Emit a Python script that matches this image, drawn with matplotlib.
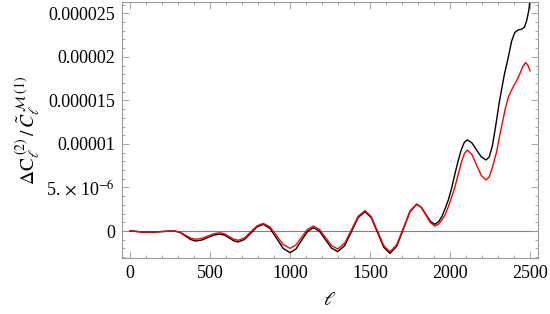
import numpy as np
import matplotlib.pyplot as plt
from matplotlib.ticker import FixedLocator, MultipleLocator

plt.rcParams['font.family'] = ['Liberation Serif', 'DejaVu Serif']
plt.rcParams['mathtext.fontset'] = 'stix'

# multipole and ratio values (units of 1e-6)
ell_black = [0, 26, 52, 78, 104, 148, 192, 236, 280, 313, 346, 379, 412, 450,
             487, 525, 562, 591, 620, 648, 677, 716, 755, 794, 833, 875, 917,
             958, 1000, 1037, 1073, 1110, 1146, 1184, 1222, 1260, 1298, 1341,
             1384, 1426, 1469, 1508, 1547, 1586, 1625, 1667, 1709, 1750, 1792,
             1820, 1849, 1878, 1906, 1930, 1950, 1970, 1990, 2010, 2030, 2050,
             2070, 2090, 2108, 2137, 2166, 2196, 2225, 2245, 2265, 2285, 2310,
             2340, 2365, 2385, 2405, 2427, 2445, 2465, 2480, 2492, 2500]
val_black = [0, -0.02, -0.075, -0.13, -0.15, -0.128, -0.075, -0.022, 0.0,
             -0.17, -0.575, -0.98, -1.15, -1.03, -0.75, -0.47, -0.35, -0.48,
             -0.805, -1.13, -1.26, -0.96, -0.245, 0.47, 0.77, 0.29, -0.86,
             -2.01, -2.49, -2.07, -1.055, -0.04, 0.38, -0.02, -1.0, -1.97,
             -2.37, -1.70, -0.075, 1.55, 2.22, 1.52, -0.175, -1.87, -2.57,
             -1.75, 0.245, 2.24, 3.06, 2.73, 1.915, 1.10, 0.77, 1.1, 1.7, 2.6,
             3.6, 4.9, 6.5, 8.0, 9.3, 10.2, 10.46, 10.12, 9.31, 8.50, 8.16, 8.5,
             9.8, 12.0, 15.0, 18.0, 20.0, 21.8, 22.8, 23.1, 23.15, 23.4, 24.2,
             25.3, 26.5]

ell_red = [0, 26, 52, 78, 104, 148, 192, 236, 280, 313, 346, 379, 412, 450,
           487, 525, 562, 591, 620, 648, 677, 716, 755, 794, 833, 875, 917,
           958, 1000, 1037, 1073, 1110, 1146, 1184, 1222, 1260, 1298, 1341,
           1384, 1426, 1469, 1508, 1547, 1586, 1625, 1667, 1709, 1750, 1792,
           1820, 1849, 1878, 1906, 1930, 1950, 1970, 1990, 2010, 2030, 2050,
           2070, 2090, 2108, 2137, 2166, 2196, 2225, 2245, 2265, 2290, 2320,
           2345, 2365, 2380, 2396, 2415, 2435, 2455, 2473, 2488, 2500]
val_red = [0, -0.02, -0.07, -0.12, -0.14, -0.12, -0.07, -0.02, 0.0, -0.14,
           -0.475, -0.81, -0.95, -0.84, -0.575, -0.31, -0.2, -0.33, -0.635,
           -0.94, -1.07, -0.785, -0.095, 0.595, 0.88, 0.46, -0.555, -1.57,
           -1.99, -1.62, -0.71, 0.20, 0.57, 0.18, -0.75, -1.68, -2.07, -1.43,
           0.135, 1.70, 2.34, 1.65, -0.02, -1.69, -2.38, -1.58, 0.36, 2.30,
           3.1, 2.73, 1.835, 0.94, 0.57, 0.8, 1.3, 1.9, 2.8, 3.9, 5.0, 6.4,
           7.8, 8.9, 9.3, 8.80, 7.58, 6.36, 5.86, 6.2, 7.3, 9.0, 11.8, 14.0,
           15.4, 16.0, 16.6, 17.2, 18.0, 18.9, 19.35, 19.0, 18.4]

ytick_vals = [0, 5e-6, 1e-5, 1.5e-5, 2e-5, 2.5e-5]
ytick_labels = ['0', r'5. $\times$ 10$^{-6}$', '0.00001', '0.000015', '0.00002', '0.000025']

fig = plt.figure(figsize=(5.5, 3.14), dpi=100)
ax = fig.add_axes([122/550, 56/314, 416/550, 256/314])

ax.axhline(0, color='#808080', lw=0.8, zorder=1)
ax.plot(ell_black, np.array(val_black) * 1e-6, color='black', lw=1.0)
ax.plot(ell_red, np.array(val_red) * 1e-6, color='red', lw=1.0)

ax.set_xlim(-50, 2550)
ax.set_ylim(-3.1e-6, 26.3e-6)

ax.xaxis.set_major_locator(MultipleLocator(500))
ax.xaxis.set_minor_locator(MultipleLocator(100))
ax.yaxis.set_major_locator(FixedLocator(ytick_vals))
ax.set_yticklabels(ytick_labels)
ax.yaxis.set_minor_locator(MultipleLocator(1e-6))

for s in ax.spines.values():
    s.set_color('#999999')
    s.set_linewidth(0.8)
ax.tick_params(which='both', direction='in', top=True, right=True,
               color='#999999', labelsize=13, width=0.6)
ax.tick_params(which='major', length=5, pad=5)
ax.tick_params(which='minor', length=2.5)

ax.set_xlabel(r'$\ell$', fontsize=14, labelpad=7)
ax.set_ylabel(r'$\Delta\mathrm{C}_\ell^{\;(2)}\,/\,\tilde{C}_\ell^{\;\mathcal{M}\;(1)}$',
              fontsize=14, labelpad=2)

fig.savefig('out.png', dpi=100)
